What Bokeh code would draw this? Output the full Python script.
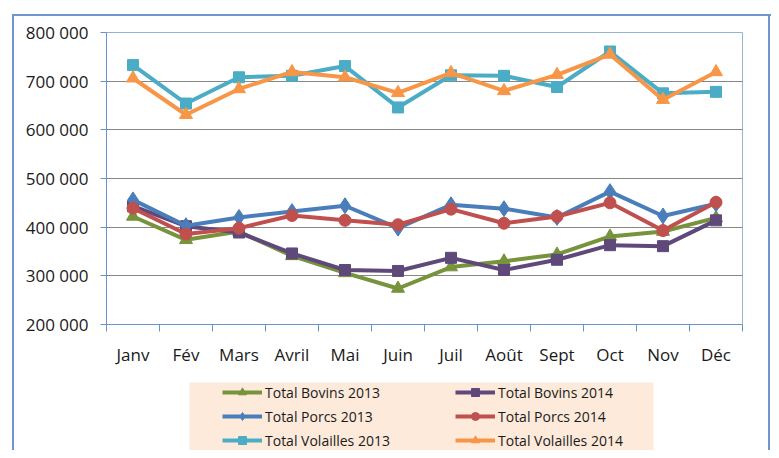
from bokeh.plotting import figure
from bokeh.layouts import column
from bokeh.models import (Range1d, FixedTicker, CustomJSTickFormatter, Legend,
                          LegendItem)
from bokeh.embed import file_html
from bokeh.resources import INLINE

months = ["Janv", "Fév", "Mars", "Avril", "Mai", "Juin", "Juil", "Août",
          "Sept", "Oct", "Nov", "Déc"]
bovins_2013 = [422000, 374000, 391000, 341000, 306000, 274000, 318000, 330000, 344000, 381000, 391000, 419000]
bovins_2014 = [443000, 402000, 389000, 346000, 312000, 310000, 337000, 312000, 333000, 363000, 361000, 414000]
porcs_2013 = [456000, 403000, 420000, 432000, 444000, 398000, 446000, 438000, 420000, 473000, 423000, 448000]
porcs_2014 = [439000, 386000, 398000, 424000, 414000, 405000, 437000, 408000, 422000, 450000, 393000, 451000]
volailles_2013 = [733000, 654000, 708000, 711000, 731000, 646000, 712000, 711000, 688000, 761000, 675000, 678000]
volailles_2014 = [706000, 631000, 684000, 719000, 708000, 676000, 717000, 680000, 713000, 755000, 662000, 719000]
y_ticks = [200000, 300000, 400000, 500000, 600000, 700000, 800000]

series = [
    ("Total Bovins 2013", bovins_2013, "#77933C", "triangle", 13),
    ("Total Bovins 2014", bovins_2014, "#5F497A", "square", 11),
    ("Total Porcs 2013", porcs_2013, "#4A7EBB", "diamond", 16),
    ("Total Porcs 2014", porcs_2014, "#C0504D", "circle", 12),
    ("Total Volailles 2013", volailles_2013, "#4BACC6", "square", 11),
    ("Total Volailles 2014", volailles_2014, "#F79646", "triangle", 13),
]

FONT = "Open Sans"
AXIS_COLOR = "#6A93CB"
BORDER_COLOR = "#6F95C9"
W = 771

p = figure(width=W, height=368, x_range=Range1d(0, 12),
           y_range=Range1d(200000, 800000), output_backend="svg",
           toolbar_location=None, min_border_left=106, min_border_right=29,
           min_border_top=32, min_border_bottom=41)
p.frame_align = False
p.background_fill_color = "white"
p.border_fill_alpha = 0
p.outline_line_color = "#95B3D7"
p.outline_line_width = 1

xs = [i + 0.5 for i in range(len(months))]

for label, vals, color, marker, size in series:
    p.line(xs, vals, line_color=color, line_width=4)
    p.scatter(xs, vals, marker=marker, size=size, fill_color=color,
              line_color=color)

p.xgrid.visible = False
p.ygrid.ticker = FixedTicker(ticks=y_ticks)
p.ygrid.grid_line_color = "#868686"
p.ygrid.grid_line_width = 1

p.yaxis.ticker = FixedTicker(ticks=y_ticks)
p.yaxis.formatter = CustomJSTickFormatter(code="""
    return Math.round(tick).toString().replace(/\\B(?=(\\d{3})+(?!\\d))/g, ' ');
""")
p.yaxis.axis_line_color = AXIS_COLOR
p.yaxis.major_tick_line_color = AXIS_COLOR
p.yaxis.major_tick_out = 6
p.yaxis.major_tick_in = 0
p.yaxis.minor_tick_line_color = None
p.yaxis.major_label_standoff = 12
p.yaxis.major_label_text_font = FONT
p.yaxis.major_label_text_font_size = "17px"
p.yaxis.major_label_text_color = "#1a1a1a"

p.xaxis.ticker = FixedTicker(ticks=xs, minor_ticks=list(range(len(months) + 1)))
p.xaxis.formatter = CustomJSTickFormatter(args=dict(months=months), code="""
    return months[Math.round(tick - 0.5)];
""")
p.xaxis.axis_line_color = AXIS_COLOR
p.xaxis.major_tick_out = 0
p.xaxis.major_tick_in = 0
p.xaxis.minor_tick_line_color = AXIS_COLOR
p.xaxis.minor_tick_out = 7
p.xaxis.minor_tick_in = 0
p.xaxis.major_label_standoff = 11
p.xaxis.major_label_text_font = FONT
p.xaxis.major_label_text_font_size = "17px"
p.xaxis.major_label_text_color = "#1a1a1a"

# legend panel (peach box below the chart)
lf = figure(width=W, height=82, x_range=Range1d(0, 1), y_range=Range1d(0, 1),
            output_backend="svg", toolbar_location=None,
            x_axis_location=None, y_axis_location=None,
            min_border_left=189, min_border_right=W - 653,
            min_border_top=14, min_border_bottom=0)
lf.frame_align = False
lf.background_fill_color = "#FDEADA"
lf.border_fill_alpha = 0
lf.outline_line_color = None
lf.grid.visible = False

nan = float("nan")
items = {}
for label, vals, color, marker, size in series:
    lr = lf.line(x=[nan], y=[nan], line_color=color, line_width=4)
    sr = lf.scatter(x=[nan], y=[nan], marker=marker, size=size - 2,
                    fill_color=color, line_color=color)
    items[label] = LegendItem(label=label, renderers=[lr, sr])

def make_legend(labels, x):
    lg = Legend(items=[items[l] for l in labels], location=(x, 0),
                orientation="vertical")
    lg.background_fill_alpha = 0
    lg.border_line_alpha = 0
    lg.glyph_width = 40
    lg.glyph_height = 20
    lg.label_height = 20
    lg.spacing = 4
    lg.padding = 0
    lg.margin = 0
    lg.label_standoff = 3
    lg.label_text_font = FONT
    lg.label_text_font_size = "14px"
    lg.label_text_color = "#1a1a1a"
    return lg

lf.add_layout(make_legend(["Total Bovins 2013", "Total Porcs 2013", "Total Volailles 2013"], 33), "center")
lf.add_layout(make_legend(["Total Bovins 2014", "Total Porcs 2014", "Total Volailles 2014"], 266), "center")

g = "linear-gradient(%s,%s)" % (BORDER_COLOR, BORDER_COLOR)
layout = column(p, lf, spacing=0, styles={
    "background-color": "white",
    "background-image": ",".join([g, g, g]),
    "background-repeat": "no-repeat",
    "background-size": "2px 100%, 100% 2px, 2px 100%",
    "background-position": "12px 14px, 12px 14px, 768px 14px",
})

open("out.html", "w").write(file_html(layout, INLINE))
